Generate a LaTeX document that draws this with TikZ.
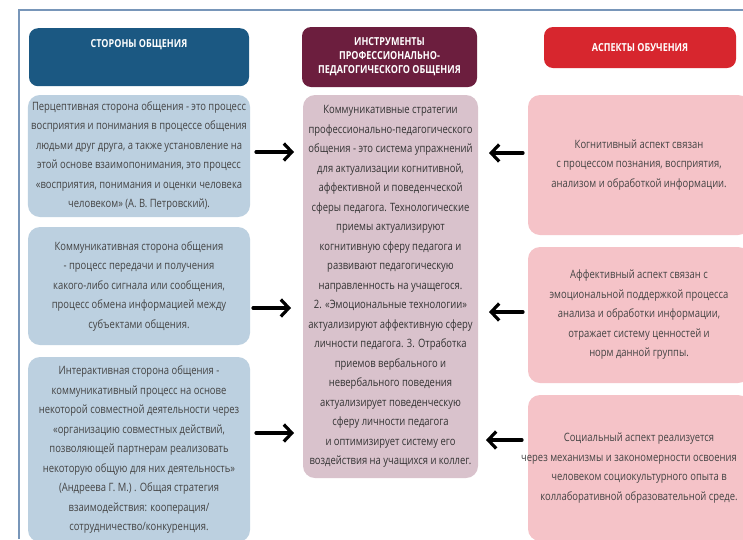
\documentclass[tikz,border=0pt]{standalone}
\usepackage{fontspec}
\setmainfont{Open Sans}[FakeStretch=0.82]
\usepackage{tikz}
\usetikzlibrary{arrows.meta}

\definecolor{frameline}{RGB}{120,150,185}
\definecolor{sidehead}{RGB}{27,88,130}
\definecolor{toolhead}{RGB}{108,30,62}
\definecolor{aspecthead}{RGB}{215,38,46}
\definecolor{sidefill}{RGB}{188,208,224}
\definecolor{toolfill}{RGB}{217,194,204}
\definecolor{aspectfill}{RGB}{245,195,200}
\definecolor{bodytext}{RGB}{68,68,68}

\tikzset{
  head/.style={rounded corners=9pt, text=white, align=center,
    font=\bfseries\fontsize{11}{14}\selectfont},
  sidebox/.style={fill=sidefill, rounded corners=12pt, minimum width=222pt,
    align=center, text=bodytext, font=\fontsize{11.5}{19.5}\selectfont},
  toolbox/.style={sidebox, fill=toolfill, minimum width=175pt, text=black!80},
  aspectbox/.style={sidebox, fill=aspectfill},
  harrow/.style={line width=3.2pt, line cap=round,
    -{Straight Barb[length=8pt,width=17pt]}}
}

\begin{document}
\begin{tikzpicture}[x=1pt,y=-1pt]
              \useasboundingbox (0,0) rectangle (743,539);
              \clip (0,0) rectangle (743,539);
              \fill[white] (0,0) rectangle (743,539);
              \draw[frameline, line width=1.5pt] (19,539) -- (19,10) -- (743,10);

              % headers
              \node[head, fill=sidehead, minimum width=220pt, anchor=north,
                inner ysep=0pt, text height=19pt, text depth=39pt] (hside) at (139,28) {СТОРОНЫ ОБЩЕНИЯ};
              \node[head, fill=toolhead, minimum width=175pt, minimum height=60pt] (htool) at (389.5,57)
                {ИНСТРУМЕНТЫ\\ПРОФЕССИОНАЛЬНО-\\ПЕДАГОГИЧЕСКОГО ОБЩЕНИЯ};
              \node[head, fill=aspecthead, minimum width=192pt, minimum height=41pt] (haspect) at (640,47.5)
                {АСПЕКТЫ ОБУЧЕНИЯ};

              % left column
              \node[sidebox, minimum height=122pt] (side1) at (139,156) {Перцептивная сторона общения - это процесс\\
                восприятия и понимания в процессе общения\\
                людьми друг друга, а также установление на\\
                этой основе взаимопонимания, это процесс\\
                «восприятия, понимания и оценки человека\\
                человеком» (А. В. Петровский).};
              \node[sidebox, minimum height=118pt] (side2) at (139,286) {Коммуникативная сторона общения\\
                - процесс передачи и получения\\
                какого-либо сигнала или сообщения,\\
                процесс обмена информацией между\\
                субъектами общения.};
              \node[sidebox, minimum height=185pt] (side3) at (139,449.5) {Интерактивная сторона общения -\\
                коммуникативный процесс на основе\\
                некоторой совместной деятельности через\\
                «организацию совместных действий,\\
                позволяющей партнерам реализовать\\
                некоторую общую для них  деятельность»\\
                (Андреева Г. М.) . Общая стратегия\\
                взаимодействия: кооперация/\\
                сотрудничество/конкуренция.};

              % middle column
              \node[toolbox, minimum height=383pt] (tool) at (390.5,286.5) {Коммуникативные стратегии\\
                профессионально-педагогического\\
                общения - это система упражнений\\
                для актуализации когнитивной,\\
                аффективной и поведенческой\\
                сферы педагога.  Технологические\\
                приемы актуализируют\\
                когнитивную сферу педагога и\\
                развивают педагогическую\\
                направленность на учащегося.\\
                2. «Эмоциональные технологии»\\
                актуализируют аффективную сферу\\
                личности педагога. 3. Отработка\\
                приемов вербального и\\
                невербального поведения\\
                актуализирует поведенческую\\
                сферу личности педагога\\
                и оптимизирует систему его\\
                воздействия на учащихся и коллег.};

              % right column
              \node[aspectbox, minimum height=140pt] (aspect1) at (639,165) {Когнитивный аспект связан\\
                с процессом познания, восприятия,\\
                анализом и обработкой информации.};
              \node[aspectbox, minimum height=136pt] (aspect2) at (639,315) {Аффективный аспект связан с\\
                эмоциональной поддержкой процесса\\
                анализа и обработки информации,\\
                отражает систему ценностей и\\
                норм данной группы.};
              \node[aspectbox, minimum height=146pt] (aspect3) at (639,468) {Социальный аспект реализуется\\
                \makebox[200pt]{через механизмы и закономерности освоения\hspace*{20pt}}\\
                человеком социокультурного опыта в\\
                коллаборативной образовательной среде.};

              % arrows
              \coordinate (s1) at (256,152); \coordinate (t1) at (294,152);
              \coordinate (s2) at (253,308); \coordinate (t2) at (291,308);
              \coordinate (s3) at (256,433); \coordinate (t3) at (294,433);
              \coordinate (a1) at (523,153); \coordinate (b1) at (489,153);
              \coordinate (a2) at (523,312); \coordinate (b2) at (489,312);
              \coordinate (a3) at (522,440); \coordinate (b3) at (486,440);
              \draw[harrow] (s1) -- (t1);
              \draw[harrow] (s2) -- (t2);
              \draw[harrow] (s3) -- (t3);
              \draw[harrow] (a1) -- (b1);
              \draw[harrow] (a2) -- (b2);
              \draw[harrow] (a3) -- (b3);
             \end{tikzpicture}
\end{document}
